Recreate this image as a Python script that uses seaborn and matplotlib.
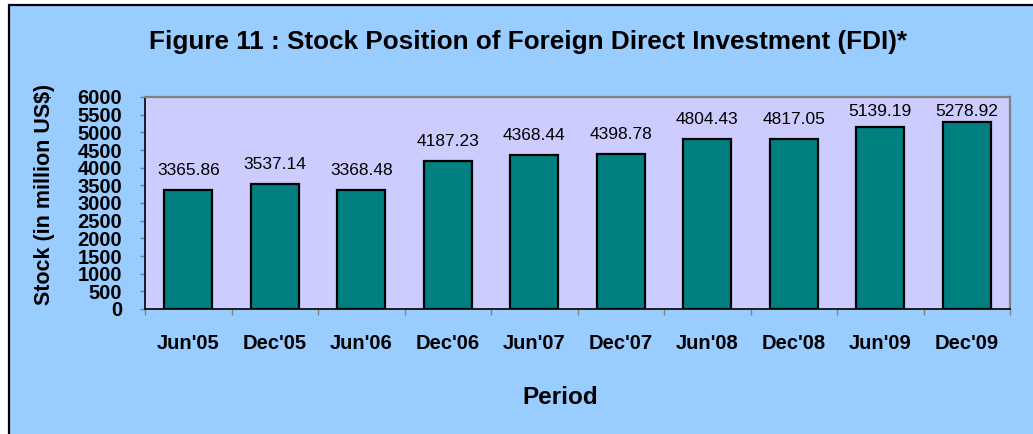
import numpy as np
import pandas as pd
import matplotlib
matplotlib.use("Agg")
import matplotlib.pyplot as plt
from matplotlib.patches import Rectangle
from matplotlib.ticker import FixedLocator, MultipleLocator
import seaborn as sns

# =========================================
# DATA
# =========================================

periods = ["Jun'05", "Dec'05", "Jun'06", "Dec'06", "Jun'07",
           "Dec'07", "Jun'08", "Dec'08", "Jun'09", "Dec'09"]
stock = [3365.86, 3537.14, 3368.48, 4187.23, 4368.44,
         4398.78, 4804.43, 4817.05, 5139.19, 5278.92]

# =========================================
# STYLE
# =========================================

sns.set_style("ticks")
plt.rcParams["font.family"] = ["Liberation Sans", "DejaVu Sans"]
plt.rcParams["text.color"] = "black"
plt.rcParams["xtick.color"] = "black"
plt.rcParams["ytick.color"] = "black"

BG = "#99CCFF"
PLOT_BG = "#CCCCFF"
BAR = "#008080"

W, H = 1033, 434
fig = plt.figure(figsize=(W / 100, H / 100), dpi=100, facecolor="white")

# outer frame of the chart
frame = Rectangle((9 / W, -0.05), 1.1, 1 - 5 / H + 0.05, transform=fig.transFigure,
                  facecolor=BG, edgecolor="black", linewidth=1.6, zorder=-10)
fig.patches.append(frame)

ax = fig.add_axes([145 / W, 1 - 309 / H, (1010 - 145) / W, (309 - 97) / H])
ax.set_facecolor(PLOT_BG)

df = pd.DataFrame({"period": periods, "stock": stock})
sns.barplot(data=df, x="period", y="stock", color=BAR, saturation=1,
            edgecolor="black", linewidth=1.6, width=0.55, ax=ax)

ax.set_ylim(0, 6000)
ax.set_xlim(-0.5, len(periods) - 0.5)
ax.yaxis.set_major_locator(MultipleLocator(500))

# value labels
for i, v in enumerate(stock):
    ax.text(i, min(v + 550, 5600), f"{v:.2f}", ha="center", va="center",
            fontsize=12.5, color="black")

# ticks
ax.tick_params(axis="y", which="major", length=3.6, width=1, color="#808080",
               pad=13, labelsize=14.5, labelcolor="black")
for lab in ax.get_yticklabels():
    lab.set_fontweight("bold")
ax.tick_params(axis="x", which="major", length=0, pad=18, labelsize=14.5,
               labelcolor="black")
for lab in ax.get_xticklabels():
    lab.set_fontweight("bold")
ax.xaxis.set_minor_locator(FixedLocator(np.arange(-0.5, len(periods), 1.0)))
ax.tick_params(axis="x", which="minor", length=4, width=1, color="#808080")

# spines
for side in ["left", "bottom"]:
    ax.spines[side].set_color("black")
    ax.spines[side].set_linewidth(1.2)
for side in ["top", "right"]:
    ax.spines[side].set_visible(True)
    ax.spines[side].set_color("#808080")
    ax.spines[side].set_linewidth(1.6)

ax.set_xlabel("")
ax.set_ylabel("")

fig.text(528 / W, 1 - 42 / H,
         "Figure 11 : Stock Position of Foreign Direct Investment (FDI)*",
         ha="center", va="center", fontsize=18.8, fontweight="bold")
fig.text(45 / W, 1 - 194 / H, "Stock (in million US$)", rotation=90,
         ha="center", va="center", fontsize=15.5, fontweight="bold")
fig.text(560 / W, 1 - 398 / H, "Period", ha="center", va="center",
         fontsize=17.5, fontweight="bold")

fig.savefig("out.png", dpi=100, facecolor=fig.get_facecolor())
